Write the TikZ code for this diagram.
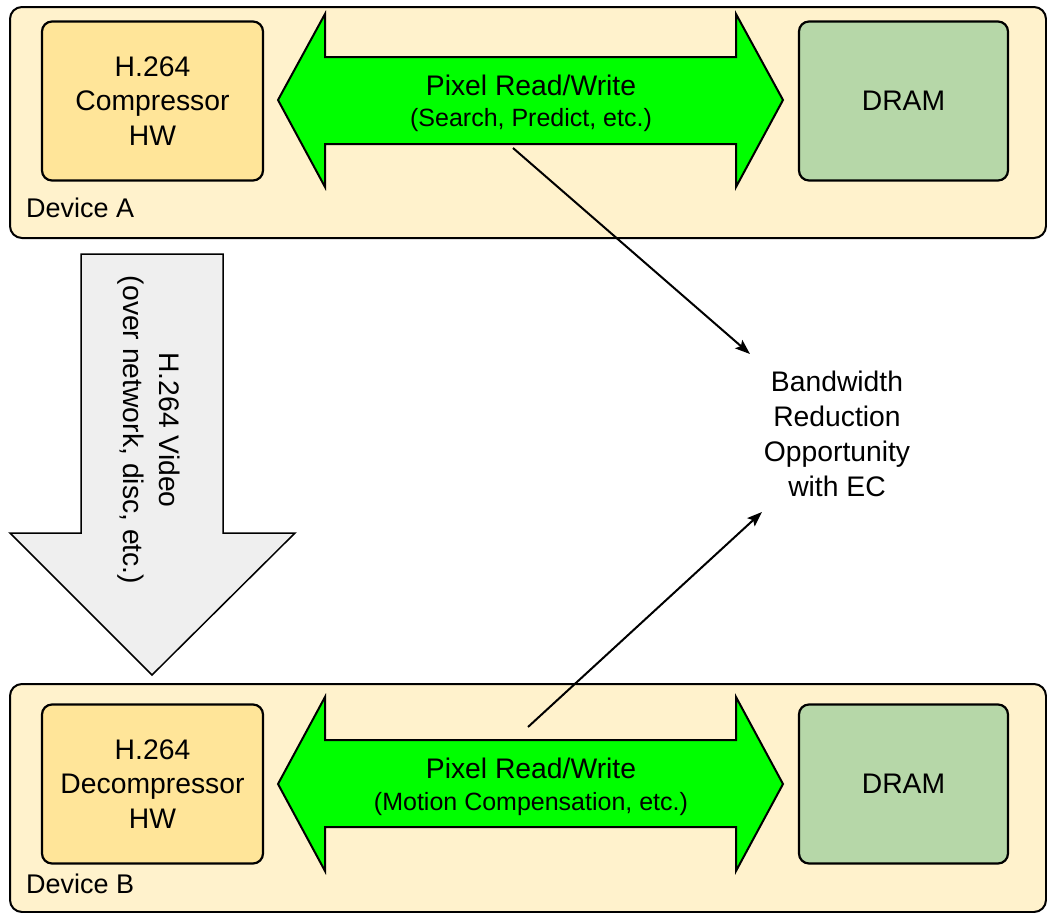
\documentclass[tikz,border=0pt]{standalone}
\usepackage{fontspec}
\setmainfont{Liberation Sans}
\usetikzlibrary{arrows.meta}
\definecolor{devfill}{HTML}{FFF2CC}
\definecolor{hwfill}{HTML}{FFE599}
\definecolor{dramfill}{HTML}{B6D7A8}
\definecolor{pixgreen}{HTML}{00FF00}
\definecolor{grayfill}{HTML}{EFEFEF}
\tikzset{
  bigtext/.style={font=\fontsize{28.3}{34.5}\selectfont},
  labeltext/.style={font=\fontsize{27}{32}\selectfont},
  smalltext/.style={font=\fontsize{25}{30}\selectfont},
  device/.style={draw=black, line width=2pt, fill=devfill, rounded corners=12pt,
    minimum width=1036pt, minimum height=231pt, inner sep=0pt},
  hwbox/.style={draw=black, line width=2.2pt, fill=hwfill, rounded corners=10pt,
    minimum width=221pt, minimum height=159pt, inner sep=0pt, align=center, bigtext},
  drambox/.style={draw=black, line width=2.2pt, fill=dramfill, rounded corners=10pt,
    minimum width=209pt, minimum height=159pt, inner sep=0pt, align=center, bigtext},
  pixarrow/.style={draw=black, line width=2pt, fill=pixgreen, line join=miter},
  netarrow/.style={draw=black, line width=1.5pt, fill=grayfill, line join=miter},
  conn/.style={draw=black, line width=2pt, -{Stealth[length=15pt,width=11pt,inset=3pt]}},
}
\begin{document}
\begin{tikzpicture}[x=1pt,y=-1pt]
\useasboundingbox (0,0) rectangle (1047,913);
% Device A
\node[device] (devA) at (528,122.5) {};
\node[labeltext, anchor=base west, inner sep=0pt] (labA) at (26,217) {Device A};
\node[hwbox] (comp) at (152.5,101) {H.264\\Compressor\\HW};
\node[drambox] (dramA) at (903.5,101) {DRAM};
\draw[pixarrow] (278,100) -- (325,14) -- (325,57) -- (736,57) -- (736,14) -- (783,100)
  -- (736,187) -- (736,144) -- (325,144) -- (325,187) -- cycle;
\node[bigtext, anchor=base, inner sep=0pt] (pixA) at (531,95) {Pixel Read/Write};
\node[smalltext, anchor=base, inner sep=0pt] (pixAsub) at (531,126) {(Search, Predict, etc.)};
% Device B
\node[device, minimum height=228pt] (devB) at (528,798) {};
\node[labeltext, anchor=base west, inner sep=0pt] (labB) at (26,893) {Device B};
\node[hwbox] (decomp) at (152.5,784) {H.264\\Decompressor\\HW};
\node[drambox] (dramB) at (903.5,784) {DRAM};
\draw[pixarrow] (278,784) -- (325,697) -- (325,740) -- (736,740) -- (736,697) -- (783,784)
  -- (736,871) -- (736,827) -- (325,827) -- (325,871) -- cycle;
\node[bigtext, anchor=base, inner sep=0pt] (pixB) at (531,778) {Pixel Read/Write};
\node[smalltext, anchor=base, inner sep=0pt] (pixBsub) at (531,810) {(Motion Compensation, etc.)};
% network arrow
\draw[netarrow] (81,254) -- (223,254) -- (223,533) -- (295,533) -- (152,675) -- (10,533) -- (81,533) -- cycle;
\node[rotate=-90, align=center, font=\fontsize{28.3}{36}\selectfont] (vid) at (149,430) {H.264 Video\\(over network, disc, etc.)};
% bandwidth
\node[align=center, bigtext, font=\fontsize{28.3}{35}\selectfont] (bw) at (837,434) {Bandwidth\\Reduction\\Opportunity\\with EC};
\coordinate (s1) at (513,148);
\coordinate (e1) at (750,354);
\coordinate (s2) at (528,727);
\coordinate (e2) at (762,512);
\draw[conn] (s1) -- (e1);
\draw[conn] (s2) -- (e2);
\end{tikzpicture}
\end{document}
